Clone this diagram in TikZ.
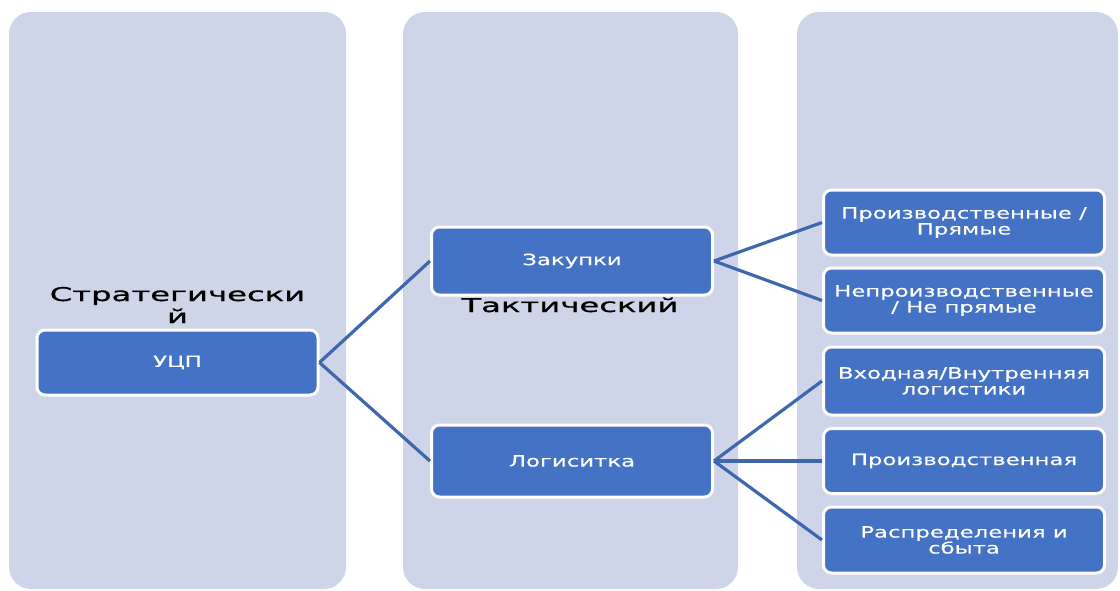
\documentclass[tikz,border=0pt]{standalone}
\usepackage{fontspec}
\newfontfamily\boxfont[FakeStretch=1.47,FakeBold=0.3]{DejaVu Sans}
\newfontfamily\titlefont[FakeStretch=1.7,FakeBold=0.8]{DejaVu Sans}
\definecolor{colbg}{HTML}{CFD5E8}
\definecolor{boxblue}{HTML}{4472C4}
\definecolor{linkblue}{HTML}{3F67AE}
\begin{document}
\begin{tikzpicture}[x=1pt,y=-1pt,
  lane/.style={fill=colbg, rounded corners=22pt},
  box/.style={draw=white, line width=3pt, fill=boxblue, rounded corners=8pt,
    text=white, font=\boxfont\fontsize{15.5}{16}\selectfont, align=center,
    inner sep=0pt, minimum width=281pt},
  link/.style={draw=linkblue, line width=3.2pt},
  level/.style={font=\titlefont\fontsize{19}{22}\selectfont, align=center, text=black, inner sep=0pt}]
\useasboundingbox[fill=white] (0,0) rectangle (1120,590);

% three level lanes
\path[lane] (9,12) rectangle (346,589);
\path[lane] (403,12) rectangle (738,589);
\path[lane] (797,12) rectangle (1118,589);

% lane titles
\node[level, anchor=base] (lvl1) at (177.5,323) {Стратегически\\й};
\node[level, anchor=base] (lvl2) at (570,312) {Тактический};

% boxes
\node[box, minimum height=65pt] (ucp) at (177.5,362.5) {УЦП};
\node[box, minimum height=68pt] (zak) at (572,261) {Закупки};
\node[box, minimum height=72pt] (log) at (572,461) {Логиситка};
\node[box, minimum height=65pt] (r1) at (964,222.5) {Производственные /\\Прямые};
\node[box, minimum height=65pt] (r2) at (964,300.5) {Непроизводственные\\/ Не прямые};
\node[box, minimum height=68pt] (r3) at (964,381) {Входная/Внутренняя\\логистики};
\node[box, minimum height=65pt] (r4) at (964,461) {Производственная};
\node[box, minimum height=66pt] (r5) at (964,540) {Распределения и\\сбыта};

% connectors
\draw[link] (ucp.east) -- (zak.west);
\draw[link] (ucp.east) -- (log.west);
\draw[link] (zak.east) -- (r1.west);
\draw[link] (zak.east) -- (r2.west);
\draw[link] (log.east) -- (r3.west);
\draw[link] (log.east) -- (r4.west);
\draw[link] (log.east) -- (r5.west);
\end{tikzpicture}
\end{document}
